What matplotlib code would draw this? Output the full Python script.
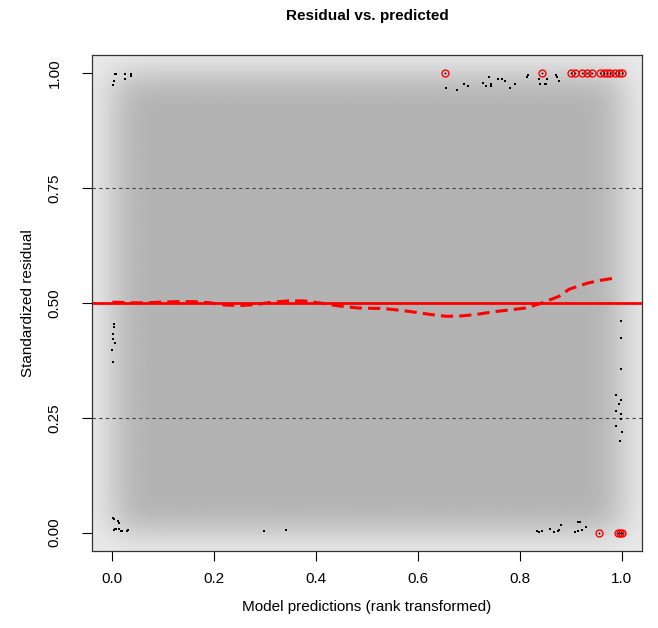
import numpy as np
import matplotlib
matplotlib.use('Agg')
from matplotlib import pyplot as plt
from math import erf

plt.rcParams['font.family'] = ['Liberation Sans', 'DejaVu Sans']

# Points shown on top of the density (black dots)
pts_x = [0.005, 0.007, 0.025, 0.037, 0.037, 0.025, 0.004, 0.001,
         0.655, 0.676, 0.691, 0.699, 0.727, 0.733, 0.739, 0.743, 0.744, 0.757, 0.765, 0.771,
         0.781, 0.790, 0.814, 0.816, 0.838, 0.839, 0.849, 0.852, 0.854, 0.872, 0.874, 0.877,
         0.003, 0.003, 0.002, 0.001, 0.006, 0.0, 0.001,
         0.001, 0.003, 0.012, 0.013, 0.005, 0.003, 0.007, 0.0135, 0.016, 0.019, 0.029, 0.031,
         0.298, 0.341,
         0.834, 0.837, 0.843, 0.860, 0.868, 0.875, 0.877, 0.881, 0.914, 0.918, 0.909, 0.915,
         0.923, 0.930,
         0.998, 0.998, 0.998, 0.988, 0.998, 0.995, 0.994, 0.989, 0.998, 0.999, 0.989, 1.0, 0.997]
pts_y = [0.999, 0.999, 0.998, 0.999, 0.994, 0.988, 0.983, 0.975,
         0.968, 0.964, 0.976, 0.972, 0.980, 0.972, 0.992, 0.972, 0.976, 0.988, 0.988, 0.984,
         0.968, 0.976, 0.992, 0.996, 0.988, 0.976, 0.976, 0.976, 0.988, 0.996, 0.992, 0.984,
         0.455, 0.448, 0.432, 0.422, 0.413, 0.398, 0.371,
         0.032, 0.029, 0.025, 0.020, 0.009, 0.0065, 0.009, 0.008, 0.003, 0.004, 0.004, 0.006,
         0.004, 0.006,
         0.004, 0.002, 0.004, 0.009, 0.001, 0.003, 0.006, 0.017, 0.024, 0.024, 0.001, 0.004,
         0.005, 0.012,
         0.460, 0.423, 0.356, 0.299, 0.288, 0.280, 0.280, 0.264, 0.259, 0.248, 0.232, 0.219, 0.199]

# Outliers (red circles)
out_x = [0.653, 0.843, 0.900, 0.908, 0.923, 0.932, 0.941, 0.958, 0.966, 0.972, 0.978, 0.987,
         0.995, 1.0, 0.955, 0.993, 0.997, 1.0]
out_y = [1.0, 1.0, 1.0, 1.0, 1.0, 1.0, 1.0, 1.0, 1.0, 1.0, 1.0, 1.0,
         1.0, 1.0, 0.0, 0.0, 0.0, 0.0]

# Quantile regression fit (0.5)
curve_x = [0.0, 0.036, 0.067, 0.098, 0.129, 0.16, 0.191, 0.222, 0.253, 0.284, 0.315, 0.346,
           0.376, 0.408, 0.442, 0.484, 0.532, 0.567, 0.594, 0.625, 0.656, 0.687, 0.718, 0.749,
           0.78, 0.811, 0.842, 0.877, 0.897, 0.932, 0.956, 0.99]
curve_y = [0.502, 0.5005, 0.5005, 0.502, 0.503, 0.503, 0.5005, 0.4955, 0.4945, 0.497, 0.502,
           0.5046, 0.5046, 0.50, 0.494, 0.489, 0.488, 0.484, 0.480, 0.475, 0.471, 0.472, 0.4756,
           0.481, 0.485, 0.489, 0.4995, 0.5146, 0.53, 0.543, 0.549, 0.555]

fig = plt.figure(figsize=(6.58, 6.28), dpi=100)
ax = fig.add_axes([0.1398, 0.1226, 0.8359, 0.7898])

# Smoothed density background (lighter near the edges)
gx = np.linspace(-0.04, 1.04, 300)
gy = np.linspace(-0.04, 1.04, 300)
phi = np.vectorize(lambda v: 0.5 * (1 + erf(v / np.sqrt(2))))
h = 0.035
dx = phi(gx / h) - phi((gx - 1) / h)
dy = phi(gy / h) - phi((gy - 1) / h)
dens = np.outer(dy, dx)
gray = 0.92 - 0.22 * dens
ax.imshow(gray, extent=[-0.04, 1.04, -0.04, 1.04], origin='lower', cmap='gray',
          vmin=0, vmax=1, aspect='auto', interpolation='bilinear', zorder=0)

ax.axhline(0.25, color='#444444', lw=0.8, ls=(0, (3, 3)), zorder=1)
ax.axhline(0.75, color='#444444', lw=0.8, ls=(0, (3, 3)), zorder=1)
ax.axhline(0.5, color='red', lw=2, zorder=2)
ax.plot(curve_x, curve_y, color='red', lw=2.2, ls=(0, (4, 2)), zorder=3)

ax.plot(pts_x, pts_y, 's', color='black', ms=1.6, mew=0, zorder=4)
ax.plot(out_x, out_y, 'o', mfc='none', mec='red', ms=5, mew=1, zorder=5)
ax.plot(out_x, out_y, 's', color='black', ms=1.2, mew=0, zorder=5)

ax.set_xlim(-0.04, 1.04)
ax.set_ylim(-0.04, 1.04)
ax.set_xticks([0.0, 0.2, 0.4, 0.6, 0.8, 1.0])
ax.set_xticklabels(['0.0', '0.2', '0.4', '0.6', '0.8', '1.0'])
ax.set_yticks([0.0, 0.25, 0.5, 0.75, 1.0])
ax.set_yticklabels(['0.00', '0.25', '0.50', '0.75', '1.00'], rotation=90, va='center')
ax.tick_params(direction='out', length=7, width=0.8, labelsize=11)
ax.tick_params(axis='x', pad=8)
ax.tick_params(axis='y', pad=15)
for s in ax.spines.values():
    s.set_linewidth(0.9)
    s.set_color('#333333')

ax.set_xlabel('Model predictions (rank transformed)', fontsize=11, labelpad=10)
ax.set_ylabel('Standardized residual', fontsize=11, labelpad=9)
ax.set_title('Residual vs. predicted', fontsize=11, fontweight='bold', pad=25)

plt.savefig('out.png', dpi=100)
